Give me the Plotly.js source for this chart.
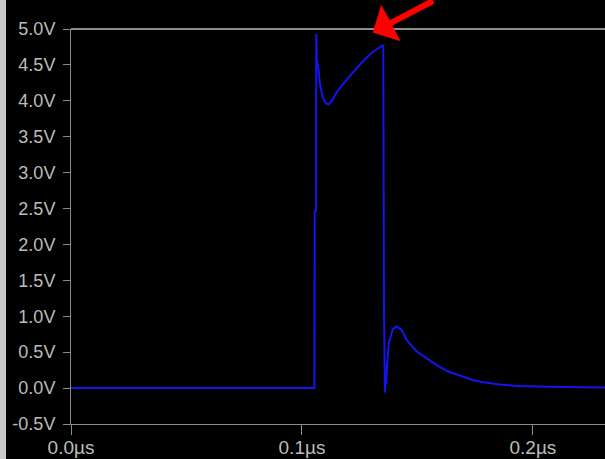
<!DOCTYPE html>
<html>
<head>
<meta charset="utf-8">
<script src="https://cdn.plot.ly/plotly-3.0.1.min.js"></script>
<style>
  html, body { margin: 0; padding: 0; background: #000; }
  #scope { width: 605px; height: 459px; }
</style>
</head>
<body>
<div id="scope"></div>
<script>
// time in µs, voltage in V
const timeUs = [
  0, 0.1054, 0.1055, 0.1061, 0.1062, 0.1064, 0.1071, 0.1078, 0.1090, 0.1102,
  0.1114, 0.1130, 0.1150, 0.1200, 0.1258, 0.1302, 0.1349, 0.1352, 0.1355,
  0.1359, 0.1362, 0.1365, 0.1369, 0.1377, 0.1393, 0.1410, 0.1432, 0.1453,
  0.1497, 0.1540, 0.1583, 0.1633, 0.1684, 0.1742, 0.1800, 0.1857, 0.1936,
  0.2020, 0.2117, 0.2312
];
const voltage = [
  0, 0, 2.46, 2.47, 4.93, 4.58, 4.45, 4.23, 4.05, 3.97,
  3.95, 4.00, 4.12, 4.32, 4.53, 4.67, 4.77, 4.75, 1.19,
  -0.06, 0.25, 0.05, 0.36, 0.64, 0.82, 0.86, 0.81, 0.67,
  0.51, 0.41, 0.32, 0.23, 0.17, 0.11, 0.074, 0.05, 0.03,
  0.02, 0.015, 0.008
];

const yTickVals = [-0.5, 0, 0.5, 1, 1.5, 2, 2.5, 3, 3.5, 4, 4.5, 5];
const yTickText = ["-0.5V", "0.0V", "0.5V", "1.0V", "1.5V", "2.0V", "2.5V",
  "3.0V", "3.5V", "4.0V", "4.5V", "5.0V"];
const xTickVals = [0, 0.1, 0.2];
const xTickText = ["0.0µs", "0.1µs", "0.2µs"];

// where the red arrow points
const arrowAt = { t: 0.1306, v: 4.95 };

const axisGray = "#8c8c8c";
const labelGray = "#bcbcbc";
const fontFamily = "Liberation Sans, Arial, sans-serif";

const trace = {
  x: timeUs,
  y: voltage,
  type: "scatter",
  mode: "lines",
  line: { color: "#1414f0", width: 2 },
  hoverinfo: "skip",
};

const layout = {
  width: 605,
  height: 459,
  margin: { l: 71, r: 0, t: 29, b: 35 },
  paper_bgcolor: "#000",
  plot_bgcolor: "#000",
  showlegend: false,
  xaxis: {
    range: [0, 0.2312],
    tickvals: xTickVals,
    ticktext: xTickText,
    ticks: "outside",
    ticklen: 10,
    tickcolor: axisGray,
    tickfont: { family: fontFamily, size: 19, color: labelGray },
    ticklabelstandoff: -4,
    showgrid: false,
    zeroline: false,
    showline: true,
    linecolor: axisGray,
    linewidth: 1,
  },
  yaxis: {
    range: [-0.5, 5.0],
    tickvals: yTickVals,
    ticktext: yTickText,
    ticks: "outside",
    ticklen: 7,
    tickcolor: axisGray,
    tickfont: { family: fontFamily, size: 18, color: labelGray },
    ticklabelstandoff: 4,
    showgrid: false,
    zeroline: false,
    showline: true,
    linecolor: axisGray,
    linewidth: 1,
  },
  shapes: [
    // top border of the plot
    {
      type: "line", xref: "paper", yref: "paper",
      x0: 0, x1: 1, y0: 1, y1: 1,
      line: { color: axisGray, width: 2 },
    },
    // light strip on the window edge
    {
      type: "rect", xref: "paper", yref: "paper",
      x0: -71 / 534, x1: -65 / 534, y0: -35 / 395, y1: 1 + 29 / 395,
      fillcolor: "#c8c8c8", line: { width: 0 }, layer: "above",
    },
  ],
  annotations: [
    {
      x: arrowAt.t, y: arrowAt.v, xref: "x", yref: "y",
      text: "", showarrow: true,
      ax: 62, ay: -52,
      arrowcolor: "#ff0000", arrowwidth: 6, arrowhead: 1, arrowsize: 1.15,
      standoff: 0,
    },
  ],
};

Plotly.newPlot("scope", [trace], layout, { displayModeBar: false, staticPlot: true });
</script>
</body>
</html>
